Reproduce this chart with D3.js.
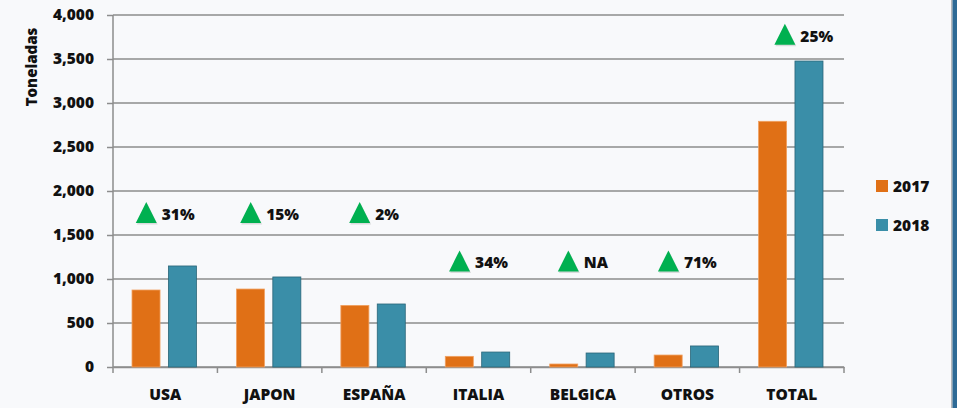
<!DOCTYPE html>
<html>
<head>
<meta charset="utf-8">
<script src="https://cdn.jsdelivr.net/npm/d3@7"></script>
<style>
  body { margin: 0; background: #f8f9fb; }
  svg text { font-family: "Open Sans", sans-serif; font-weight: 800; fill: #111; }
</style>
</head>
<body>
<svg id="chart" width="957" height="408"></svg>
<script>
// data
const categories = ["USA", "JAPON", "ESPAÑA", "ITALIA", "BELGICA", "OTROS", "TOTAL"];
const years = ["2017", "2018"];
const values2017 = [875, 886, 700, 121, 34, 136, 2792];
const values2018 = [1148, 1023, 716, 170, 159, 239, 3477];
const changeLabels = ["31%", "15%", "2%", "34%", "NA", "71%", "25%"];
const labelLevels = [1750, 1750, 1750, 1200, 1200, 1200, 3775];
const yTicks = [0, 500, 1000, 1500, 2000, 2500, 3000, 3500, 4000];

const colors = { "2017": "#e07016", "2018": "#3a8ea8" };

const margin = { top: 15, left: 113, right: 113, bottom: 41 };
const W = 957, H = 408;

const svg = d3.select("#chart");

// right border strip
svg.append("rect").attr("x", 951).attr("y", 0).attr("width", 1.5).attr("height", H).attr("fill", "#b5b8bc");
svg.append("rect").attr("x", 952.5).attr("y", 0).attr("width", 5).attr("height", H).attr("fill", "#2e6a96");

const x = d3.scaleBand()
  .domain(categories)
  .range([margin.left, W - margin.right]);

const y = d3.scaleLinear()
  .domain([0, 4000])
  .range([H - margin.bottom, margin.top]);

// gridlines + y labels
const yAxis = svg.append("g")
  .attr("transform", `translate(${margin.left},0)`)
  .call(d3.axisLeft(y).tickValues(yTicks).tickSize(6).tickPadding(13).tickFormat(d3.format(",")));
yAxis.select(".domain").remove();
yAxis.selectAll(".tick line").attr("stroke", "#8d8d8d").attr("stroke-width", 1.5);
yAxis.selectAll(".tick text").style("font-size", "15.5px").attr("fill", "#111");

svg.append("g").selectAll("line")
  .data(yTicks)
  .join("line")
  .attr("x1", margin.left)
  .attr("x2", W - margin.right)
  .attr("y1", d => y(d))
  .attr("y2", d => y(d))
  .attr("stroke", "#8d8d8d")
  .attr("stroke-width", 1.5);

// y axis line
svg.append("line")
  .attr("x1", margin.left).attr("x2", margin.left)
  .attr("y1", y(4000)).attr("y2", y(0))
  .attr("stroke", "#8d8d8d").attr("stroke-width", 1.5);

// x axis
const xAxis = svg.append("g")
  .attr("transform", `translate(0,${y(0)})`)
  .call(d3.axisBottom(x).tickSize(0).tickPadding(22));
xAxis.select(".domain").attr("stroke", "#8d8d8d").attr("stroke-width", 1.5);
xAxis.selectAll(".tick text").style("font-size", "15.5px").attr("fill", "#111");

// category separators
const edges = categories.map(c => x(c)).concat([x(categories[categories.length - 1]) + x.bandwidth()]);
svg.append("g").selectAll("line")
  .data(edges)
  .join("line")
  .attr("x1", d => d).attr("x2", d => d)
  .attr("y1", y(0)).attr("y2", y(0) + 6)
  .attr("stroke", "#8d8d8d").attr("stroke-width", 1.5);

// bars
const inner = d3.scaleBand()
  .domain(years)
  .range([0, x.bandwidth()])
  .paddingInner(0.23)
  .paddingOuter(0.55);

const rows = categories.map((c, i) => ({ cat: c, "2017": values2017[i], "2018": values2018[i] }));

const groups = svg.append("g").selectAll("g")
  .data(rows)
  .join("g")
  .attr("transform", d => `translate(${x(d.cat) - 1},0)`);

groups.selectAll("rect")
  .data(d => years.map(yr => ({ yr, v: d[yr] })))
  .join("rect")
  .attr("x", d => inner(d.yr))
  .attr("y", d => y(d.v))
  .attr("width", inner.bandwidth())
  .attr("height", d => y(0) - y(d.v))
  .attr("fill", d => colors[d.yr])
  .attr("stroke", d => d.yr === "2018" ? "#2a6679" : "#f0a060")
  .attr("stroke-width", 0.8);

// change annotations
const tri = 21;
const ann = svg.append("g").selectAll("g")
  .data(categories.map((c, i) => ({ cat: c, label: changeLabels[i], level: labelLevels[i] })))
  .join("g");

ann.each(function(d) {
  const g = d3.select(this);
  const t = g.append("text")
    .attr("y", y(d.level) + 7)
    .style("font-size", "15.5px")
    .text(d.label);
  const tw = t.node().getComputedTextLength();
  const total = tri + 5 + tw;
  const cx = x(d.cat) + x.bandwidth() / 2 + (d.cat === "TOTAL" ? 12 : 0);
  const x0 = cx - total / 2;
  const baseY = y(d.level) + 10;
  // faint shadow under triangle
  g.insert("path", "text")
    .attr("d", `M${x0 + 1},${baseY + 1.5} L${x0 + tri / 2 + 1},${baseY - tri + 1.5} L${x0 + tri + 1},${baseY + 1.5} Z`)
    .attr("fill", "#000").attr("opacity", 0.12);
  g.insert("path", "text")
    .attr("d", `M${x0},${baseY} L${x0 + tri / 2},${baseY - tri} L${x0 + tri},${baseY} Z`)
    .attr("fill", "#00b050");
  t.attr("x", x0 + tri + 5);
});

// y title
svg.append("text")
  .attr("transform", `translate(37,${67}) rotate(-90)`)
  .attr("text-anchor", "middle")
  .style("font-size", "15px")
  .text("Toneladas");

// legend
const legend = svg.append("g").selectAll("g")
  .data(years)
  .join("g")
  .attr("transform", (d, i) => `translate(876,${180 + i * 39})`);
legend.append("rect")
  .attr("width", 12).attr("height", 12)
  .attr("fill", d => colors[d]);
legend.append("text")
  .attr("x", 17).attr("y", 12)
  .style("font-size", "15.5px")
  .text(d => d);
</script>
</body>
</html>
